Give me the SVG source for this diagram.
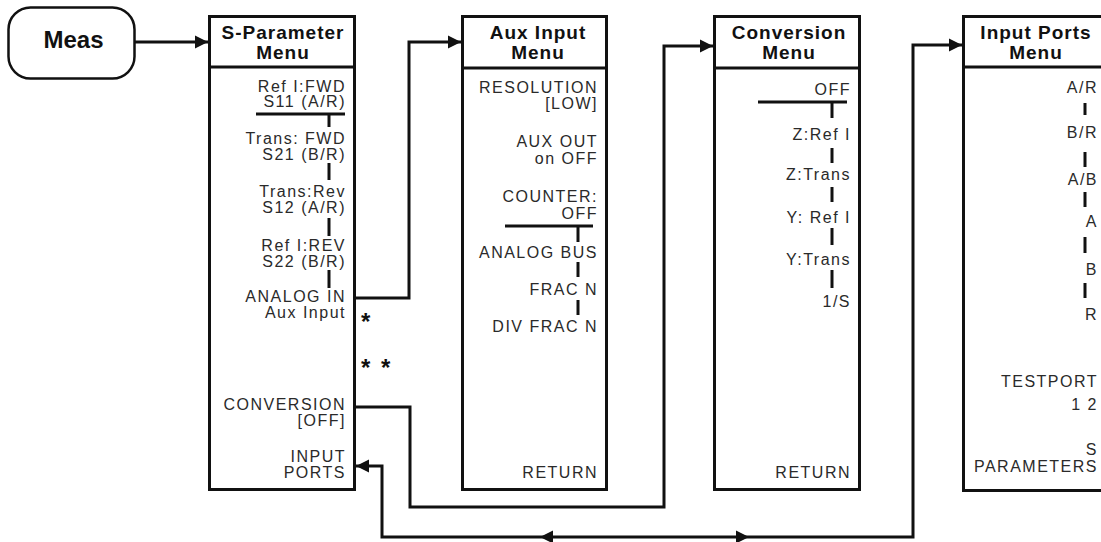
<svg xmlns="http://www.w3.org/2000/svg" width="1101" height="542" viewBox="0 0 1101 542">
<style>
.box{fill:#fff;stroke:#111;stroke-width:3}
.ln{fill:none;stroke:#111;stroke-width:3}
.dash{stroke:#111;stroke-width:3}
.ttl{font-family:"Liberation Sans",Arial,sans-serif;font-weight:bold;font-size:19px;letter-spacing:1px;fill:#111;text-anchor:middle}
.it{font-family:"Liberation Sans",Arial,sans-serif;font-size:16px;letter-spacing:1.5px;fill:#2a2a2a;text-anchor:end}
.ast{font-family:"Liberation Sans",Arial,sans-serif;font-weight:bold;font-size:24px;fill:#111}
</style>
<defs>
<marker id="ah" markerUnits="userSpaceOnUse" markerWidth="14" markerHeight="14" refX="13" refY="6.5" orient="auto-start-reverse" viewBox="0 0 14 13">
<path d="M0,0 L13,6.5 L0,13 Z" fill="#111"/>
</marker>
</defs>

<g id="meas">
<rect x="8.5" y="7.5" width="126" height="71" rx="22" ry="22" fill="#fff" stroke="#111" stroke-width="2.5"/>
<text x="73.5" y="48" style="font-family:'Liberation Sans',Arial,sans-serif;font-weight:bold;font-size:24px;fill:#111;text-anchor:middle">Meas</text>
</g>

<g id="sparam">
<rect class="box" x="209.5" y="16.5" width="145" height="473"/>
<line class="ln" x1="209" y1="67" x2="355" y2="67"/>
<text class="ttl" x="283" y="39">S-Parameter</text>
<text class="ttl" x="283" y="59">Menu</text>
<text class="it" x="346" y="92">Ref I:FWD</text>
<text class="it" x="346" y="107">S11 (A/R)</text>
<line class="dash" x1="256" y1="114" x2="345" y2="114"/>
<line class="dash" x1="329" y1="114" x2="329" y2="127"/>
<text class="it" x="346" y="144">Trans: FWD</text>
<text class="it" x="346" y="160">S21 (B/R)</text>
<line class="dash" x1="329" y1="163" x2="329" y2="180"/>
<text class="it" x="346" y="197">Trans:Rev</text>
<text class="it" x="346" y="213">S12 (A/R)</text>
<line class="dash" x1="329" y1="218" x2="329" y2="236"/>
<text class="it" x="346" y="251">Ref I:REV</text>
<text class="it" x="346" y="267">S22 (B/R)</text>
<line class="dash" x1="329" y1="270" x2="329" y2="288"/>
<text class="it" x="346" y="302">ANALOG IN</text>
<text class="it" x="346" y="318">Aux Input</text>
<text class="it" x="346" y="410">CONVERSION</text>
<text class="it" x="346" y="426">[OFF]</text>
<text class="it" x="346" y="462">INPUT</text>
<text class="it" x="346" y="478">PORTS</text>
</g>

<g id="asterisks">
<text class="ast" x="361" y="330">*</text>
<text class="ast" x="361" y="376">*</text>
<text class="ast" x="381" y="376">*</text>
</g>

<g id="aux">
<rect class="box" x="462.5" y="16.5" width="144" height="473"/>
<line class="ln" x1="462" y1="68" x2="607" y2="68"/>
<text class="ttl" x="538" y="39">Aux Input</text>
<text class="ttl" x="538" y="59">Menu</text>
<text class="it" x="598" y="93">RESOLUTION</text>
<text class="it" x="598" y="109">[LOW]</text>
<text class="it" x="598" y="147">AUX OUT</text>
<text class="it" x="598" y="164">on OFF</text>
<text class="it" x="598" y="202">COUNTER:</text>
<text class="it" x="598" y="219">OFF</text>
<line class="dash" x1="505" y1="226" x2="593" y2="226"/>
<line class="dash" x1="578" y1="226" x2="578" y2="242"/>
<text class="it" x="598" y="258">ANALOG BUS</text>
<line class="dash" x1="578" y1="262" x2="578" y2="277"/>
<text class="it" x="598" y="295">FRAC N</text>
<line class="dash" x1="578" y1="300" x2="578" y2="315"/>
<text class="it" x="598" y="332">DIV FRAC N</text>
<text class="it" x="598" y="478">RETURN</text>
</g>

<g id="conversion">
<rect class="box" x="714.5" y="16.5" width="145" height="473"/>
<line class="ln" x1="714" y1="68" x2="860" y2="68"/>
<text class="ttl" x="789" y="39">Conversion</text>
<text class="ttl" x="789" y="59">Menu</text>
<text class="it" x="851" y="95">OFF</text>
<line class="dash" x1="758" y1="102" x2="847" y2="102"/>
<line class="dash" x1="832" y1="102" x2="832" y2="118"/>
<text class="it" x="851" y="140">Z:Ref I</text>
<line class="dash" x1="832" y1="148" x2="832" y2="163"/>
<text class="it" x="851" y="180">Z:Trans</text>
<line class="dash" x1="832" y1="187" x2="832" y2="202"/>
<text class="it" x="851" y="223">Y: Ref I</text>
<line class="dash" x1="832" y1="228" x2="832" y2="245"/>
<text class="it" x="851" y="265">Y:Trans</text>
<line class="dash" x1="832" y1="270" x2="832" y2="288"/>
<text class="it" x="851" y="307">1/S</text>
<text class="it" x="851" y="478">RETURN</text>
</g>

<g id="inputports">
<rect class="box" x="963.5" y="16.5" width="145" height="474"/>
<line class="ln" x1="963" y1="67" x2="1101" y2="67"/>
<text class="ttl" x="1036" y="39">Input Ports</text>
<text class="ttl" x="1036" y="59">Menu</text>
<text class="it" x="1098" y="93">A/R</text>
<line class="dash" x1="1085" y1="103" x2="1085" y2="115"/>
<text class="it" x="1098" y="138">B/R</text>
<line class="dash" x1="1085" y1="152" x2="1085" y2="167"/>
<text class="it" x="1098" y="185">A/B</text>
<line class="dash" x1="1085" y1="192" x2="1085" y2="207"/>
<text class="it" x="1098" y="227">A</text>
<line class="dash" x1="1085" y1="237" x2="1085" y2="253"/>
<text class="it" x="1098" y="275">B</text>
<line class="dash" x1="1085" y1="283" x2="1085" y2="298"/>
<text class="it" x="1098" y="320">R</text>
<text class="it" x="1098" y="387">TESTPORT</text>
<text class="it" x="1098" y="410">1 2</text>
<text class="it" x="1098" y="455">S</text>
<text class="it" x="1098" y="472">PARAMETERS</text>
</g>

<g id="connectors">
<path class="ln" d="M135,42 H208" marker-end="url(#ah)"/>
<path class="ln" d="M355,298 H409 V42 H461" marker-end="url(#ah)"/>
<path class="ln" d="M355,407 H410 V507 H664 V46 H713" marker-end="url(#ah)"/>
<path class="ln" d="M356,466 H382 V537 H913 V45 H962" marker-start="url(#ah)" marker-end="url(#ah)"/>
<path d="M540,537 L553,530.5 L553,543.5 Z" fill="#111"/>
<path d="M749,537 L736,530.5 L736,543.5 Z" fill="#111"/>
</g>
</svg>
